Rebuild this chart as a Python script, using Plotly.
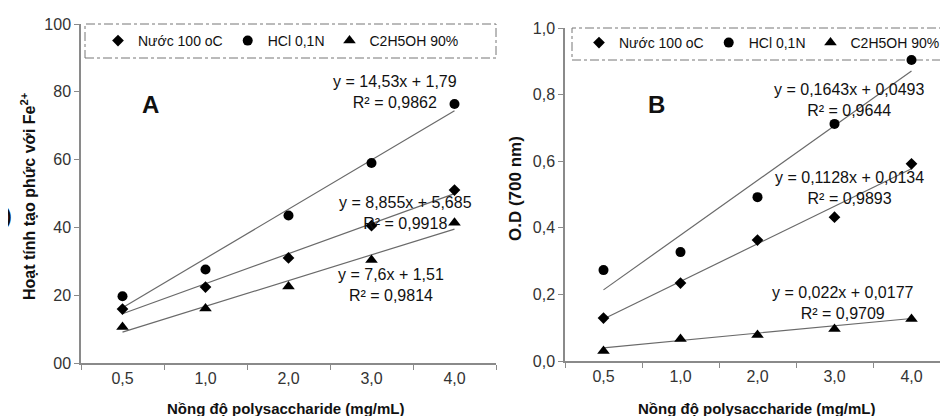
import plotly.graph_objects as go

W, H = 948, 416

# ---------------- data ----------------
categories = ["0,5", "1,0", "2,0", "3,0", "4,0"]
series_names = ["Nước 100 oC", "HCl 0,1N", "C2H5OH 90%"]
series_symbols = ["diamond", "circle", "triangle-up"]
series_sizes = [9, 10, 11]

# Panel A: Hoạt tính tạo phức với Fe2+
a_nuoc = [15.9, 22.4, 31.0, 40.5, 51.0]
a_hcl = [19.7, 27.6, 43.5, 59.0, 76.4]
a_etoh = [10.6, 16.1, 22.6, 30.4, 41.4]
a_slopes = [8.855, 14.53, 7.6]
a_intercepts = [5.685, 1.79, 1.51]
a_eq_text = ["y = 8,855x + 5,685<br>R² = 0,9918",
             "y = 14,53x + 1,79<br>R² = 0,9862",
             "y = 7,6x + 1,51<br>R² = 0,9814"]
a_ytickvals = [0, 20, 40, 60, 80, 100]
a_yticktext = ["00", "20", "40", "60", "80", "100"]

# Panel B: O.D (700 nm)
b_nuoc = [0.129, 0.234, 0.363, 0.432, 0.592]
b_hcl = [0.273, 0.327, 0.492, 0.712, 0.904]
b_etoh = [0.030, 0.066, 0.078, 0.096, 0.126]
b_slopes = [0.1128, 0.1643, 0.022]
b_intercepts = [0.0134, 0.0493, 0.0177]
b_eq_text = ["y = 0,1128x + 0,0134<br>R² = 0,9893",
             "y = 0,1643x + 0,0493<br>R² = 0,9644",
             "y = 0,022x + 0,0177<br>R² = 0,9709"]
b_ytickvals = [0, 0.2, 0.4, 0.6, 0.8, 1.0]
b_yticktext = ["0,0", "0,2", "0,4", "0,6", "0,8", "1,0"]

FONT = "Arial, Liberation Sans, sans-serif"


def px(x):
    return x / W


def py(y):
    return 1 - y / H


fig = go.Figure()

panels = [
    ("x", "y", [a_nuoc, a_hcl, a_etoh], a_slopes, a_intercepts, "legend"),
    ("x2", "y2", [b_nuoc, b_hcl, b_etoh], b_slopes, b_intercepts, "legend2"),
]

for xa, ya, vals, slopes, inters, leg in panels:
    # trendlines (Excel-style linear fits, x = 1..5 at the category centres)
    for s, b in zip(slopes, inters):
        xs_num = [1, len(categories)]
        fig.add_trace(go.Scatter(
            x=[categories[0], categories[-1]],
            y=[s * xs_num[0] + b, s * xs_num[1] + b],
            mode="lines", line=dict(color="#6a6a6a", width=1.2),
            xaxis=xa, yaxis=ya, showlegend=False, hoverinfo="skip"))
    for name, sym, size, v in zip(series_names, series_symbols, series_sizes, vals):
        fig.add_trace(go.Scatter(
            x=categories, y=v, mode="markers", name=name,
            marker=dict(symbol=sym, size=size, color="black"),
            xaxis=xa, yaxis=ya, legend=leg))

axis_common = dict(
    showgrid=False, zeroline=False, showline=True, linecolor="#8a8a8a",
    linewidth=1.5, ticks="outside", ticklen=5, tickcolor="#8a8a8a",
    tickfont=dict(family=FONT, size=16, color="#333"), automargin=False,
)
xcat = dict(type="category", categoryorder="array", categoryarray=categories,
            tickson="boundaries", range=[-0.5, 4.5])

fig.update_layout(
    width=W, height=H, margin=dict(l=0, r=0, t=0, b=0),
    paper_bgcolor="white", plot_bgcolor="white",
    font=dict(family=FONT, color="#111"),
    xaxis=dict(domain=[px(73), px(488)], anchor="y", **xcat, **axis_common),
    yaxis=dict(domain=[py(355), py(16)], anchor="x", range=[0, 100],
               tickvals=a_ytickvals, ticktext=a_yticktext, **axis_common),
    xaxis2=dict(domain=[px(557), px(942)], anchor="y2", **xcat, **axis_common),
    yaxis2=dict(domain=[py(353), py(20)], anchor="x2", range=[0, 1.0],
                tickvals=b_ytickvals, ticktext=b_yticktext, **axis_common),
    legend=dict(orientation="h", x=px(90), y=py(33), xanchor="left",
                yanchor="middle", bgcolor="rgba(0,0,0,0)",
                font=dict(family=FONT, size=14, color="#111"),
                itemwidth=30, tracegroupgap=0),
    legend2=dict(orientation="h", x=px(571), y=py(35), xanchor="left",
                 yanchor="middle", bgcolor="rgba(0,0,0,0)",
                 font=dict(family=FONT, size=14, color="#111"),
                 itemwidth=30, tracegroupgap=0),
    showlegend=True,
)

# dash-dot legend boxes
for x0, x1, y0, y1 in [(77, 488, 16, 50), (564, 946, 20, 52)]:
    fig.add_shape(type="rect", xref="paper", yref="paper",
                  x0=px(x0), x1=px(x1), y0=py(y1), y1=py(y0),
                  line=dict(color="#777", width=1, dash="dashdot"),
                  fillcolor="rgba(0,0,0,0)", layer="below")

ann = []
# panel letters
ann.append(dict(text="<b>A</b>", x=px(142), y=py(97), font=dict(size=24)))
ann.append(dict(text="<b>B</b>", x=px(648), y=py(97), font=dict(size=24)))
# equations
for txt, (cx, cy) in zip(a_eq_text, [(397, 205), (387, 84), (383, 277)]):
    ann.append(dict(text=txt, x=px(cx), y=py(cy), font=dict(size=16)))
for txt, (cx, cy) in zip(b_eq_text, [(841, 180), (841, 92), (835, 295)]):
    ann.append(dict(text=txt, x=px(cx), y=py(cy), font=dict(size=16)))
# axis titles
ann.append(dict(text="<b>Nồng độ polysaccharide (mg/mL)</b>", x=px(278), y=py(400),
                font=dict(size=15)))
ann.append(dict(text="<b>Nồng độ polysaccharide (mg/mL)</b>", x=px(749), y=py(400),
                font=dict(size=15)))
ann.append(dict(text="<b>Hoạt tính tạo phức với Fe<sup>2+</sup></b>", x=px(20), y=py(188),
                textangle=-90, font=dict(size=16)))
ann.append(dict(text="<b>O.D (700 nm)</b>", x=px(507), y=py(180),
                textangle=-90, font=dict(size=17)))
# stray cropped glyph at the left edge
ann.append(dict(text="<b>)</b>", x=px(6), y=py(208), xanchor="right",
                font=dict(size=20)))

for a in ann:
    a.setdefault("xanchor", "center")
    a.update(xref="paper", yref="paper", yanchor="middle", showarrow=False)
    a["font"] = dict(family=FONT, color="#111", **a["font"])
    fig.add_annotation(**a)

fig.write_html("out.html")
